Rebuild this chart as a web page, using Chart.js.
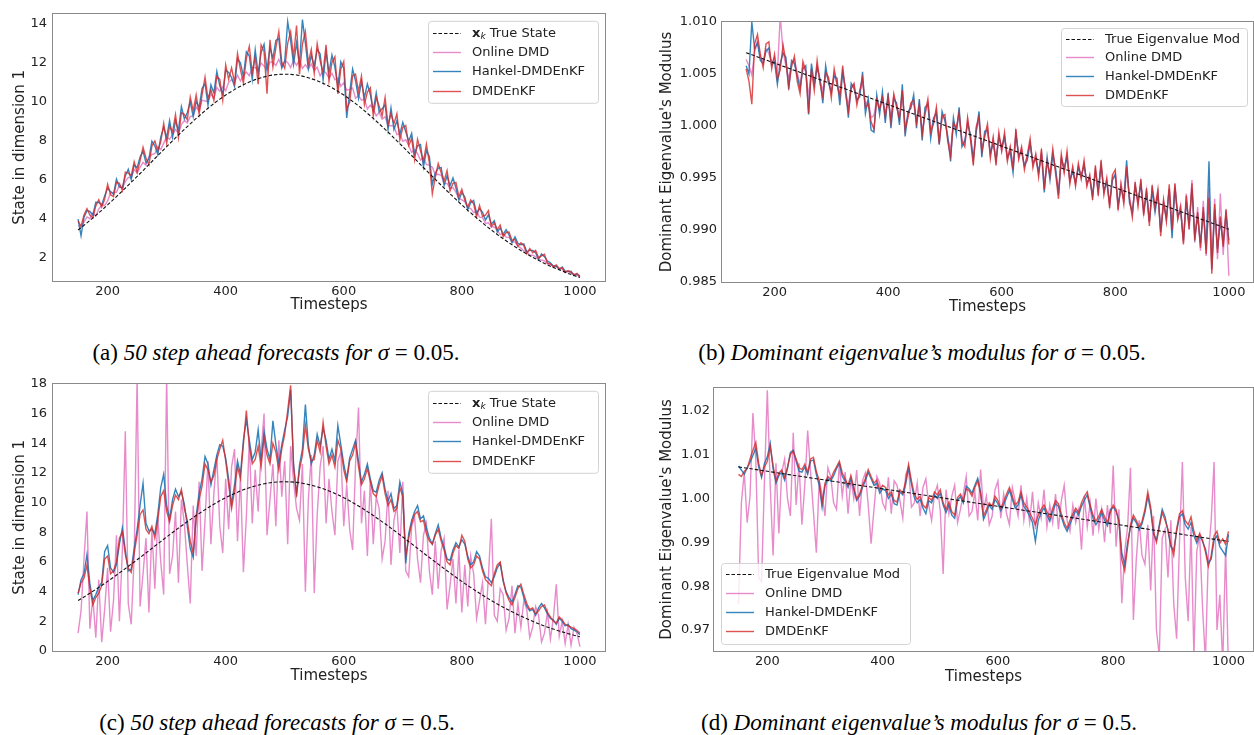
<!DOCTYPE html>
<html><head><meta charset="utf-8">
<script src="https://cdn.jsdelivr.net/npm/chart.js@4.4.1/dist/chart.umd.min.js"></script>
<style>
html,body{margin:0;padding:0;background:#fff}
body{width:1254px;height:735px;position:relative;overflow:hidden}
canvas{position:absolute;display:block}
.cap{position:absolute;font-family:"Liberation Serif","DejaVu Serif",serif;font-size:23px;color:#000;white-space:nowrap;transform:translateX(-50%);line-height:26px}
.cap i{font-style:italic}
</style></head><body>
<canvas id="cA" width="627" height="320" style="left:0;top:0"></canvas>
<canvas id="cB" width="614" height="320" style="left:640px;top:0"></canvas>
<canvas id="cC" width="627" height="320" style="left:0;top:370px"></canvas>
<canvas id="cD" width="614" height="320" style="left:640px;top:370px"></canvas>
<div class="cap" style="left:276px;top:340px">(a) <i>50 step ahead forecasts for σ</i> = 0.05.</div>
<div class="cap" style="left:922px;top:340px">(b) <i>Dominant eigenvalue’s modulus for σ</i> = 0.05.</div>
<div class="cap" style="left:277px;top:710px">(c) <i>50 step ahead forecasts for σ</i> = 0.5.</div>
<div class="cap" style="left:919px;top:710px">(d) <i>Dominant eigenvalue’s modulus for σ</i> = 0.5.</div>
<script>
// ---------------- data ----------------
const timesteps = [150,155,160,165,170,175,180,185,190,195,
200,205,210,215,220,225,230,235,240,245,
250,255,260,265,270,275,280,285,290,295,
300,305,310,315,320,325,330,335,340,345,
350,355,360,365,370,375,380,385,390,395,
400,405,410,415,420,425,430,435,440,445,
450,455,460,465,470,475,480,485,490,495,
500,505,510,515,520,525,530,535,540,545,
550,555,560,565,570,575,580,585,590,595,
600,605,610,615,620,625,630,635,640,645,
650,655,660,665,670,675,680,685,690,695,
700,705,710,715,720,725,730,735,740,745,
750,755,760,765,770,775,780,785,790,795,
800,805,810,815,820,825,830,835,840,845,
850,855,860,865,870,875,880,885,890,895,
900,905,910,915,920,925,930,935,940,945,
950,955,960,965,970,975,980,985,990,995,1000];

const truthSteps = [150,160,170,180,190,200,210,220,230,240,250,260,270,280,290,300,310,320,330,340,
350,360,370,380,390,400,410,420,430,440,450,460,470,480,490,500,510,520,530,540,
550,560,570,580,590,600,610,620,630,640,650,660,670,680,690,700,710,720,730,740,
750,760,770,780,790,800,810,820,830,840,850,860,870,880,890,900,910,920,930,940,
950,960,970,980,990,1000];
const trueState = [3.40,3.64,3.89,4.15,4.41,4.69,4.97,5.26,5.55,5.85,6.15,6.45,6.76,7.07,7.37,7.68,7.98,8.28,8.57,8.85,
9.13,9.39,9.65,9.89,10.12,10.33,10.52,10.70,10.86,11.00,11.12,11.22,11.30,11.36,11.39,11.40,11.39,11.36,11.30,11.22,
11.12,11.00,10.86,10.70,10.52,10.33,10.12,9.89,9.65,9.39,9.13,8.85,8.57,8.28,7.98,7.68,7.37,7.07,6.76,6.45,
6.15,5.85,5.55,5.26,4.97,4.69,4.41,4.15,3.89,3.64,3.40,3.17,2.95,2.74,2.54,2.35,2.17,2.00,1.84,1.68,
1.54,1.41,1.29,1.17,1.06,0.96];

const eigSteps = [150, 575, 1000];
const trueEigB = [1.00705, 0.99856, 0.99007];
const trueEigD = [1.0072, 0.9987, 0.9902];

const onlineA = [3.63,3.55,3.81,4.07,3.98,4.27,4.12,4.47,4.68,4.66,
4.89,5.31,5.33,5.33,5.70,5.54,5.89,6.10,6.09,6.50,
6.33,6.62,6.87,6.72,7.14,7.27,7.33,7.68,7.53,7.86,
8.18,8.06,8.28,8.56,8.36,8.81,9.02,8.90,9.22,9.27,
9.71,9.51,10.07,10.02,10.00,10.37,10.19,10.71,10.52,10.76,
10.55,10.98,11.12,10.98,11.35,11.05,11.34,11.51,11.32,11.74,
11.75,11.57,11.97,11.81,11.62,12.03,12.01,11.85,12.17,11.77,
12.08,12.00,11.74,12.11,11.86,12.11,11.70,11.89,11.67,11.92,
11.59,11.76,11.32,11.58,11.46,11.20,11.45,11.11,11.20,10.78,
10.96,10.58,10.62,10.69,10.16,10.30,10.07,10.12,9.61,9.81,
9.62,9.26,9.43,9.09,9.22,8.76,8.75,8.73,8.30,8.35,
7.95,8.03,7.74,7.39,7.52,7.32,6.99,7.13,6.76,6.73,
6.62,6.25,6.26,6.21,5.76,5.79,5.55,5.58,5.34,5.02,
4.95,4.86,4.52,4.51,4.29,4.36,4.06,4.04,3.73,3.77,
3.56,3.55,3.39,3.16,3.21,3.03,3.02,2.78,2.79,2.57,
2.47,2.32,2.31,2.11,2.10,2.03,1.86,1.86,1.81,1.66,
1.63,1.52,1.53,1.42,1.39,1.27,1.27,1.20,1.12,1.10,0.98];

const hankelA = [3.96,3.10,4.06,4.39,4.35,4.16,4.82,4.81,4.69,5.15,
5.55,5.37,5.23,6.01,5.60,5.58,6.17,6.52,5.99,6.74,
6.60,7.15,7.45,6.85,7.06,7.96,7.72,7.27,8.17,8.67,
8.15,9.02,8.15,9.02,8.51,9.73,9.10,9.42,9.98,9.22,
10.01,9.68,10.66,10.92,9.81,10.85,10.44,11.54,10.80,10.39,
11.60,11.49,11.23,10.76,12.18,11.98,11.29,12.55,12.34,11.14,
12.65,11.42,12.52,12.94,11.62,12.78,12.21,13.13,13.22,11.72,
12.07,14.10,13.12,11.90,13.01,11.93,14.20,12.99,11.67,12.37,
11.82,12.66,12.45,11.10,12.54,11.48,12.38,11.76,10.77,12.03,
11.70,9.15,10.44,11.66,11.05,10.16,11.02,10.19,10.90,10.35,
9.56,10.44,9.46,9.62,9.84,8.55,9.67,8.56,9.01,8.32,
8.93,8.44,7.96,8.36,7.27,7.72,7.79,6.64,7.48,7.17,
5.75,6.32,6.58,6.61,5.69,6.18,5.67,6.07,5.57,4.93,
5.32,5.11,4.44,4.80,4.92,4.26,4.48,4.32,3.91,4.18,
3.70,3.88,3.29,3.51,3.17,3.42,3.14,2.74,3.04,2.71,
2.64,2.69,2.28,2.35,2.35,2.23,1.89,2.17,2.03,1.80,
1.72,1.55,1.55,1.37,1.50,1.28,1.26,1.28,1.06,1.13,1.04];

const enkfA = [3.85,3.59,4.17,4.50,4.17,4.02,4.64,4.95,4.58,4.97,
5.75,5.21,5.11,5.85,5.80,5.42,6.37,6.32,6.19,6.90,
6.35,6.95,7.65,7.10,6.76,7.71,7.97,7.47,7.92,8.87,
7.85,8.72,8.45,9.32,8.15,9.43,9.34,9.06,10.22,9.52,
10.34,9.36,10.34,11.25,10.14,10.59,10.05,11.28,11.13,10.07,
11.88,11.14,11.72,10.97,12.46,11.63,10.94,12.20,12.83,11.49,
12.27,10.89,12.90,12.56,10.40,13.16,11.76,12.76,13.59,12.02,
11.70,12.98,13.57,12.28,13.90,11.40,12.95,13.59,11.97,12.67,
11.44,12.96,12.08,11.48,12.91,11.03,12.00,12.29,10.39,11.66,
12.05,9.60,9.95,11.31,11.40,10.51,11.30,9.84,10.48,10.70,
9.26,10.20,9.76,9.26,10.20,8.79,9.37,8.86,9.37,8.02,
8.66,8.77,7.74,8.09,7.00,8.05,7.46,6.91,7.81,6.83,
5.25,6.10,6.81,6.34,5.92,6.45,5.40,5.80,5.84,5.11,
5.49,4.93,4.58,4.94,4.74,4.08,4.66,4.10,4.16,4.39,
3.57,3.76,3.42,3.66,3.05,3.27,3.29,2.86,2.92,2.56,
2.74,2.59,2.18,2.45,2.23,2.35,1.97,2.07,2.15,1.70,
1.66,1.51,1.61,1.41,1.46,1.22,1.32,1.22,1.11,1.17,1.00];

const onlineB = [1.0064,1.0058,1.0049,1.0071,1.0082,1.0066,1.0062,1.0074,1.0070,1.0060,
1.0066,1.0050,1.0106,1.0072,1.0058,1.0046,1.0060,1.0064,1.0051,1.0040,
1.0058,1.0052,1.0028,1.0053,1.0040,1.0058,1.0044,1.0034,1.0050,1.0045,
1.0032,1.0050,1.0041,1.0031,1.0052,1.0034,1.0020,1.0038,1.0040,1.0024,
1.0032,1.0042,1.0020,1.0025,1.0008,1.0010,1.0026,1.0018,1.0028,1.0012,
1.0026,1.0008,1.0029,1.0019,1.0009,1.0030,1.0000,1.0010,1.0020,1.0022,
1.0004,1.0019,0.9995,1.0012,1.0022,0.9997,1.0004,1.0015,0.9988,1.0008,
1.0008,0.9988,0.9978,1.0002,0.9997,1.0010,0.9987,0.9983,1.0006,0.9988,
0.9970,0.9996,1.0005,0.9977,0.9990,0.9998,0.9972,0.9988,0.9968,0.9991,
0.9976,0.9990,0.9968,0.9979,0.9962,0.9993,0.9969,0.9978,0.9961,0.9972,
0.9984,0.9962,0.9972,0.9954,0.9975,0.9944,0.9966,0.9954,0.9975,0.9956,
0.9938,0.9970,0.9956,0.9972,0.9947,0.9960,0.9944,0.9962,0.9950,0.9964,
0.9943,0.9952,0.9932,0.9958,0.9936,0.9963,0.9936,0.9948,0.9924,0.9950,
0.9954,0.9922,0.9945,0.9928,0.9958,0.9932,0.9916,0.9944,0.9925,0.9946,
0.9916,0.9938,0.9908,0.9940,0.9922,0.9936,0.9900,0.9928,0.9910,0.9940,
0.9898,0.9944,0.9912,0.9924,0.9888,0.9935,0.9900,0.9948,0.9888,0.9922,
0.9880,0.9928,0.9875,0.9940,0.9866,0.9930,0.9872,0.9935,0.9876,0.9918,0.9856];

const hankelB = [1.0058,1.0050,1.0100,1.0074,1.0080,1.0063,1.0060,1.0072,1.0075,1.0059,
1.0062,1.0040,1.0060,1.0070,1.0066,1.0035,1.0063,1.0060,1.0048,1.0036,
1.0055,1.0058,1.0011,1.0060,1.0040,1.0056,1.0045,1.0022,1.0058,1.0041,
1.0033,1.0048,1.0046,1.0020,1.0052,1.0036,1.0008,1.0041,1.0036,1.0025,
1.0028,1.0052,1.0012,1.0026,0.9996,0.9994,1.0030,1.0011,1.0033,1.0003,
1.0032,0.9998,1.0026,1.0022,1.0001,1.0040,0.9990,1.0014,1.0017,1.0030,
0.9998,1.0026,0.9986,1.0018,1.0021,0.9988,1.0008,1.0012,0.9982,1.0014,
1.0005,0.9990,0.9966,1.0008,0.9992,1.0018,0.9980,0.9986,1.0002,0.9992,
0.9967,0.9993,1.0014,0.9970,0.9995,0.9996,0.9974,0.9983,0.9967,0.9989,
0.9980,0.9989,0.9970,0.9975,0.9955,0.9992,0.9972,0.9975,0.9962,0.9967,
0.9983,0.9965,0.9968,0.9956,0.9973,0.9936,0.9970,0.9948,0.9972,0.9959,
0.9934,0.9968,0.9960,0.9970,0.9948,0.9956,0.9946,0.9960,0.9952,0.9962,
0.9946,0.9949,0.9933,0.9957,0.9938,0.9962,0.9938,0.9946,0.9926,0.9948,
0.9953,0.9924,0.9940,0.9930,0.9967,0.9926,0.9917,0.9942,0.9928,0.9944,
0.9918,0.9936,0.9908,0.9938,0.9917,0.9935,0.9898,0.9925,0.9912,0.9939,
0.9892,0.9941,0.9914,0.9918,0.9890,0.9928,0.9905,0.9940,0.9894,0.9913,
0.9887,0.9918,0.9881,0.9966,0.9862,0.9920,0.9882,0.9908,0.9888,0.9915,0.9890];

const enkfB = [1.0055,1.0043,1.0021,1.0079,1.0088,1.0069,1.0056,1.0079,1.0081,1.0055,
1.0069,1.0045,1.0054,1.0078,1.0062,1.0038,1.0057,1.0067,1.0043,1.0031,
1.0062,1.0053,1.0012,1.0055,1.0034,1.0063,1.0041,1.0028,1.0052,1.0047,
1.0027,1.0055,1.0040,1.0028,1.0058,1.0031,1.0014,1.0036,1.0041,1.0020,
1.0034,1.0046,1.0018,1.0021,1.0004,0.9997,1.0025,1.0016,1.0027,1.0009,
1.0028,1.0004,1.0031,1.0018,1.0007,1.0034,0.9996,1.0008,1.0022,1.0025,
1.0003,1.0021,0.9992,1.0012,1.0026,0.9994,1.0002,1.0018,0.9983,1.0009,
1.0011,0.9985,0.9971,1.0003,0.9998,1.0013,0.9985,0.9980,1.0008,0.9987,
0.9962,0.9999,1.0009,0.9975,0.9990,1.0002,0.9969,0.9989,0.9962,0.9994,
0.9976,0.9994,0.9966,0.9980,0.9958,0.9997,0.9968,0.9980,0.9958,0.9972,
0.9988,0.9960,0.9973,0.9951,0.9978,0.9939,0.9966,0.9952,0.9978,0.9954,
0.9930,0.9973,0.9955,0.9976,0.9944,0.9961,0.9942,0.9964,0.9949,0.9967,
0.9942,0.9953,0.9929,0.9962,0.9933,0.9967,0.9934,0.9950,0.9921,0.9953,
0.9958,0.9919,0.9944,0.9925,0.9961,0.9930,0.9912,0.9946,0.9923,0.9949,
0.9914,0.9940,0.9904,0.9943,0.9921,0.9939,0.9894,0.9929,0.9908,0.9944,
0.9900,0.9945,0.9910,0.9922,0.9886,0.9933,0.9901,0.9945,0.9890,0.9917,
0.9883,0.9922,0.9877,0.9931,0.9858,0.9925,0.9878,0.9913,0.9884,0.9920,0.9886];

const onlineC = [1.20,2.70,6.20,9.40,1.50,3.60,0.90,4.80,0.60,2.80,
5.60,1.30,3.40,7.80,2.00,6.80,14.80,3.20,1.80,6.40,
18.50,3.00,5.20,7.60,2.60,8.20,4.20,9.00,6.00,3.80,
18.50,5.20,6.40,9.40,4.60,10.20,8.60,5.80,3.20,9.80,
6.40,11.40,5.40,8.80,12.80,7.20,10.60,13.20,8.40,6.60,
11.60,8.20,12.40,13.60,7.40,11.80,5.30,9.00,14.20,8.60,
12.20,9.40,13.40,16.00,7.80,10.20,12.60,8.40,14.20,10.40,
12.80,7.20,13.80,11.40,9.60,8.80,12.60,4.00,10.20,13.20,
3.90,9.20,12.40,13.80,8.60,11.60,9.40,7.80,12.80,13.40,
8.40,11.20,8.20,6.80,12.60,16.40,8.60,10.80,6.40,11.60,
7.20,10.40,9.60,6.20,7.40,10.80,5.80,8.80,9.80,6.60,
11.40,5.40,5.00,8.40,9.00,6.20,4.60,7.80,8.60,5.40,
3.80,7.40,4.20,6.80,7.60,2.80,4.40,6.20,3.20,6.80,
2.60,5.80,3.00,6.40,5.20,2.20,3.40,4.60,1.80,5.00,
8.90,2.40,2.00,4.20,3.80,1.40,2.20,4.40,1.20,3.20,
1.60,3.40,2.80,0.90,1.60,3.00,2.40,0.60,1.20,2.60,
0.80,2.20,4.50,1.00,2.00,0.50,1.80,0.40,1.60,1.20,0.30];

const hankelC = [3.80,4.80,5.20,6.50,4.50,3.40,3.80,4.30,4.60,6.70,
7.10,5.60,5.30,5.80,7.20,8.30,6.80,5.40,5.50,6.90,
8.20,9.80,11.30,8.60,8.10,8.20,7.90,9.20,11.00,11.90,
9.80,8.90,10.20,10.90,10.40,10.70,9.90,8.40,6.90,6.30,
9.10,10.60,11.60,13.10,12.60,11.20,12.20,13.20,13.90,13.80,
13.00,11.60,9.90,11.20,12.80,11.90,14.20,15.60,14.20,12.90,
13.40,14.90,12.80,14.80,13.60,12.90,15.50,13.90,12.60,13.90,
14.90,15.80,17.60,12.60,10.40,12.50,13.60,16.60,13.90,12.60,
13.20,14.60,13.80,15.00,14.20,12.90,13.60,12.80,15.20,13.90,
12.60,11.60,13.00,13.60,14.20,12.80,11.40,11.90,12.60,11.60,
10.80,10.70,11.50,12.00,10.90,10.10,10.60,9.60,9.80,11.40,
10.60,5.90,7.90,8.80,9.40,9.80,8.90,9.10,8.30,7.60,
7.20,7.90,8.50,7.60,7.00,6.20,6.10,6.80,7.30,7.00,
7.50,7.20,6.40,5.80,6.00,6.70,6.40,5.60,5.00,4.90,
4.60,5.00,5.60,5.90,4.70,4.00,3.60,3.30,3.80,4.40,
4.30,3.60,3.00,2.70,2.80,2.40,2.90,3.20,2.90,2.50,
2.20,2.10,1.80,2.20,2.00,1.70,1.80,1.50,1.40,1.30,1.10];

const enkfC = [3.90,4.60,4.90,5.80,4.20,3.10,3.60,3.90,4.40,6.20,
6.40,5.20,5.40,6.00,7.60,8.00,6.50,5.60,5.30,6.60,
7.80,9.20,9.50,8.20,7.90,8.40,7.60,8.80,10.40,10.80,
9.40,8.70,9.80,10.50,10.20,10.90,9.60,8.80,7.40,6.60,
8.90,10.20,11.10,12.60,12.20,11.40,11.80,12.90,13.60,14.20,
12.80,11.20,9.60,10.80,12.40,11.60,13.90,16.20,13.80,12.60,
12.90,13.80,12.40,14.40,13.20,12.60,14.00,13.40,12.20,13.60,
14.60,16.20,17.90,12.40,10.60,12.20,13.20,15.20,13.60,12.80,
12.90,14.20,13.40,15.40,13.80,12.60,13.20,12.40,14.20,13.60,
12.20,11.40,12.80,13.20,14.00,12.40,11.20,11.60,12.30,11.40,
10.60,10.40,11.20,11.80,10.60,9.80,10.20,9.40,9.60,11.00,
10.40,6.40,7.60,8.60,9.20,9.40,8.70,8.80,7.90,7.40,
7.20,7.80,8.20,7.40,6.80,6.00,5.80,6.60,7.10,6.90,
7.80,7.40,6.20,5.60,5.80,6.40,6.20,5.40,4.80,4.60,
4.40,5.20,5.80,6.00,4.80,3.90,3.40,3.10,3.60,4.20,
4.50,3.80,3.20,2.80,2.90,2.50,2.70,3.00,3.10,2.60,
2.30,2.00,1.90,2.30,2.10,1.80,1.70,1.60,1.50,1.40,1.20];

const onlineD = [0.9760,0.9990,1.0060,0.9945,1.0005,1.0195,1.0090,0.9820,0.9810,1.0040,
1.0247,1.0030,0.9870,1.0080,0.9920,1.0060,1.0090,1.0000,0.9960,1.0150,
0.9985,1.0080,0.9940,1.0030,1.0155,1.0060,0.9970,0.9876,1.0040,1.0010,
0.9960,1.0070,1.0050,0.9990,0.9975,1.0080,1.0005,1.0060,0.9965,1.0045,
1.0000,1.0065,0.9960,1.0040,1.0058,0.9985,0.9897,0.9975,1.0050,1.0035,
0.9990,0.9975,1.0048,0.9965,1.0040,1.0030,0.9995,0.9955,1.0055,1.0070,
0.9980,0.9990,1.0035,0.9960,1.0025,1.0045,0.9985,0.9950,1.0010,1.0030,
0.9972,0.9828,1.0020,0.9965,1.0005,1.0030,0.9945,0.9975,1.0010,1.0050,
0.9960,0.9970,1.0015,0.9950,1.0066,0.9975,1.0005,0.9940,0.9960,1.0020,
1.0040,0.9955,1.0010,0.9965,0.9940,1.0025,0.9995,0.9960,1.0030,0.9950,
1.0000,0.9945,1.0015,0.9930,0.9990,0.9955,1.0020,0.9935,0.9985,0.9945,
1.0010,0.9930,0.9995,1.0030,0.9950,0.9925,0.9985,0.9945,0.9975,0.9883,
1.0005,0.9935,0.9990,0.9915,1.0000,0.9930,0.9975,0.9900,0.9985,0.9920,
1.0075,0.9890,0.9975,0.9761,0.9880,0.9935,1.0070,0.9723,0.9860,0.9950,
0.9870,0.9850,0.9940,0.9790,0.9960,0.9700,0.9640,0.9910,0.9930,0.9820,
0.9950,0.9760,0.9680,0.9900,1.0083,0.9820,0.9720,0.9935,0.9640,0.9880,
0.9915,0.9750,0.9630,0.9870,0.9950,1.0083,0.9700,0.9780,0.9620,0.9890,0.9600];

const hankelD = [1.0074,1.0065,1.0055,1.0070,1.0082,1.0098,1.0115,1.0072,1.0048,1.0080,
1.0095,1.0126,1.0068,1.0035,1.0052,1.0060,1.0042,1.0068,1.0105,1.0110,
1.0085,1.0062,1.0060,1.0072,1.0055,1.0085,1.0088,1.0055,1.0030,0.9980,
1.0028,1.0045,1.0040,1.0052,1.0068,1.0080,1.0050,1.0040,1.0025,1.0045,
1.0020,0.9995,1.0005,1.0025,1.0040,1.0060,1.0045,1.0030,1.0035,1.0012,
1.0022,1.0018,1.0000,1.0010,0.9988,0.9985,1.0015,1.0008,1.0032,1.0070,
1.0032,1.0002,0.9990,0.9998,0.9978,0.9965,0.9995,0.9990,1.0008,1.0000,
1.0012,0.9985,0.9968,0.9985,0.9962,0.9955,0.9995,1.0004,0.9990,1.0028,
1.0022,1.0012,1.0030,1.0046,1.0015,0.9952,0.9968,0.9985,0.9975,0.9998,
0.9988,0.9972,0.9985,1.0002,1.0018,0.9998,0.9978,0.9985,1.0008,0.9982,
0.9972,0.9960,0.9945,0.9902,0.9950,0.9968,0.9978,0.9962,0.9948,0.9970,
0.9988,0.9982,0.9958,0.9938,0.9925,0.9942,0.9958,0.9972,0.9962,0.9982,
0.9996,1.0008,0.9980,0.9955,0.9940,0.9952,0.9968,0.9950,0.9938,0.9975,
0.9980,0.9970,0.9950,0.9875,0.9848,0.9900,0.9935,0.9955,0.9945,0.9928,
0.9942,0.9968,1.0005,0.9972,0.9918,0.9905,0.9940,0.9975,0.9958,0.9925,
0.9890,0.9882,0.9925,0.9958,0.9965,0.9940,0.9930,0.9945,0.9915,0.9898,
0.9915,0.9902,0.9885,0.9852,0.9862,0.9905,0.9915,0.9890,0.9880,0.9870,0.9918];

const enkfD = [1.0055,1.0050,1.0062,1.0068,1.0090,1.0110,1.0128,1.0080,1.0052,1.0072,
1.0085,1.0118,1.0075,1.0040,1.0058,1.0065,1.0048,1.0072,1.0100,1.0108,
1.0090,1.0070,1.0066,1.0078,1.0060,1.0090,1.0094,1.0062,1.0040,0.9990,
1.0035,1.0050,1.0044,1.0060,1.0072,1.0085,1.0058,1.0045,1.0030,1.0052,
1.0025,1.0000,1.0010,1.0030,1.0045,1.0066,1.0050,1.0035,1.0042,1.0020,
1.0030,1.0025,1.0008,1.0015,0.9995,0.9992,1.0020,1.0012,1.0040,1.0078,
1.0040,1.0010,0.9998,1.0005,0.9985,0.9978,1.0002,0.9996,1.0015,1.0008,
1.0020,0.9990,0.9975,0.9992,0.9970,0.9962,1.0002,1.0010,0.9995,1.0022,
1.0018,1.0005,1.0025,1.0040,1.0010,0.9960,0.9975,0.9990,0.9982,1.0005,
0.9995,0.9978,0.9992,1.0010,1.0025,1.0005,0.9985,0.9992,1.0015,0.9990,
0.9980,0.9968,0.9955,0.9940,0.9962,0.9975,0.9985,0.9970,0.9955,0.9978,
0.9995,0.9988,0.9965,0.9945,0.9932,0.9950,0.9965,0.9978,0.9968,0.9990,
1.0005,1.0015,0.9985,0.9962,0.9948,0.9960,0.9975,0.9958,0.9945,0.9968,
0.9985,0.9975,0.9945,0.9860,0.9835,0.9890,0.9940,0.9962,0.9950,0.9935,
0.9948,0.9975,1.0015,0.9980,0.9925,0.9900,0.9935,0.9968,0.9950,0.9930,
0.9895,0.9870,0.9930,0.9965,0.9972,0.9950,0.9940,0.9958,0.9925,0.9905,
0.9920,0.9905,0.9878,0.9845,0.9870,0.9915,0.9925,0.9898,0.9908,0.9895,0.9925];

const xTicks = [200, 400, 600, 800, 1000];
const yTicksA = [2, 4, 6, 8, 10, 12, 14];
const yTicksB = [0.985, 0.990, 0.995, 1.000, 1.005, 1.010];
const yTicksC = [0, 2, 4, 6, 8, 10, 12, 14, 16, 18];
const yTicksD = [0.97, 0.98, 0.99, 1.00, 1.01, 1.02];
const stateNames = ['x_k True State', 'Online DMD', 'Hankel-DMDEnKF', 'DMDEnKF'];
const eigNames = ['True Eigenvalue Mod', 'Online DMD', 'Hankel-DMDEnKF', 'DMDEnKF'];
const xTitle = 'Timesteps';
const stateTitle = 'State in dimension 1';
const eigTitle = "Dominant Eigenvalue's Modulus";

// ---------------- drawing ----------------
Chart.defaults.font.family = '"DejaVu Sans", sans-serif';
const PINK = 'rgba(227,119,194,0.85)', BLUE = 'rgba(31,119,180,0.9)', RED = 'rgba(214,39,40,0.8)', DARK = '#111';
const TXT = '#222';

function pts(xs, ys) { return xs.map((x, i) => ({x: x, y: ys[i]})); }

const framePlugin = {
  id: 'frame',
  afterDraw(chart) {
    const a = chart.chartArea, c = chart.ctx;
    c.save();
    c.strokeStyle = '#8a8a8a'; c.lineWidth = 1;
    const l = Math.round(a.left) - 0.5, t = Math.round(a.top) - 0.5;
    const r = Math.round(a.right) + 0.5, b = Math.round(a.bottom) + 0.5;
    c.strokeRect(l, t, r - l, b - t);
    c.restore();
  }
};

const legendPlugin = {
  id: 'boxLegend',
  afterDatasetsDraw(chart, args, o) {
    const a = chart.chartArea, c = chart.ctx;
    const x0 = o.corner === 'll' ? a.left + o.inset : a.right - o.inset - o.w;
    const y0 = o.corner === 'll' ? a.bottom - o.inset - o.h : a.top + o.inset;
    c.save();
    c.beginPath();
    if (c.roundRect) c.roundRect(x0 + 0.5, y0 + 0.5, o.w, o.h, 3); else c.rect(x0 + 0.5, y0 + 0.5, o.w, o.h);
    c.fillStyle = 'rgba(255,255,255,0.8)'; c.fill();
    c.strokeStyle = '#d3d3d3'; c.lineWidth = 1; c.stroke();
    chart.data.datasets.forEach((ds, k) => {
      const y = Math.round(y0 + o.first + k * o.gap) + 0.5;
      c.beginPath();
      c.setLineDash(ds.borderDash || []);
      c.strokeStyle = ds.borderColor; c.lineWidth = ds.borderWidth;
      c.moveTo(x0 + 5, y); c.lineTo(x0 + 33, y); c.stroke();
      c.setLineDash([]);
      c.fillStyle = TXT; c.textBaseline = 'middle'; c.textAlign = 'left';
      let tx = x0 + 44;
      let label = ds.label;
      if (label.startsWith('x_k')) {
        c.font = 'bold 13px "DejaVu Sans"'; c.fillText('x', tx, y); tx += c.measureText('x').width;
        c.font = 'italic 9px "DejaVu Sans"'; c.fillText('k', tx, y + 3); tx += c.measureText('k').width;
        label = label.slice(3);
      }
      c.font = '13px "DejaVu Sans"'; c.fillText(label, tx, y);
    });
    c.restore();
  }
};

function panel(id, p) {
  const mk = (label, xs, ys, color, order, dash, w) => ({
    label: label, data: pts(xs, ys), borderColor: color, borderWidth: w || 1.4,
    borderDash: dash || [], order: order, clip: 0, pointRadius: 0, tension: 0, fill: false
  });
  new Chart(document.getElementById(id), {
    type: 'line',
    data: { datasets: [
      mk(p.names[0], p.trueX, p.trueY, DARK, 0, [3.5, 2], 1.1),
      mk(p.names[1], timesteps, p.online, PINK, 3),
      mk(p.names[2], timesteps, p.hankel, BLUE, 2),
      mk(p.names[3], timesteps, p.enkf, RED, 1)
    ]},
    options: {
      responsive: false, animation: false, events: [],
      layout: { padding: p.pad },
      plugins: { legend: { display: false }, tooltip: { enabled: false }, boxLegend: p.legend },
      scales: {
        x: {
          type: 'linear', min: 107.5, max: 1042.5,
          afterBuildTicks: s => { s.ticks = xTicks.map(v => ({value: v})); },
          afterFit: s => { s.height = p.xH; },
          grid: { display: false, drawTicks: false }, border: { display: false },
          ticks: { color: TXT, font: { size: 13 }, padding: 3, autoSkip: false, maxRotation: 0, callback: v => String(v) },
          title: { display: true, text: xTitle, color: TXT, font: { size: 15 }, padding: { top: 0, bottom: p.xTitlePad } }
        },
        y: {
          type: 'linear', min: p.yMin, max: p.yMax,
          afterBuildTicks: s => { s.ticks = p.yTicks.map(v => ({value: v})); },
          afterFit: s => { s.width = p.yW; },
          grid: { display: false, drawTicks: false }, border: { display: false },
          ticks: { color: TXT, font: { size: 13 }, padding: p.yTickPad, autoSkip: false, callback: v => Number(v).toFixed(p.dec) },
          title: { display: true, text: p.yTitle, color: TXT, font: { size: 15 }, padding: { top: p.yTitlePad, bottom: 0 } }
        }
      }
    },
    plugins: [legendPlugin, framePlugin]
  });
}

panel('cA', { names: stateNames, trueX: truthSteps, trueY: trueState, online: onlineA, hankel: hankelA, enkf: enkfA,
  pad: { top: 11, right: 22, left: 0, bottom: 0 }, xH: 39, xTitlePad: 6, yW: 53, yTickPad: 6, yTitlePad: 11,
  yMin: 0.78, yMax: 14.5, yTicks: yTicksA, dec: 0, yTitle: stateTitle,
  legend: { corner: 'ur', inset: 7, w: 170, h: 82, first: 12, gap: 19.3 } });

panel('cB', { names: eigNames, trueX: eigSteps, trueY: trueEigB, online: onlineB, hankel: hankelB, enkf: enkfB,
  pad: { top: 22, right: 1, left: 0, bottom: 0 }, xH: 38, xTitlePad: 4, yW: 82, yTickPad: 5, yTitlePad: 18,
  yMin: 0.985, yMax: 1.010, yTicks: yTicksB, dec: 3, yTitle: eigTitle,
  legend: { corner: 'ur', inset: 6, w: 186, h: 78, first: 10.5, gap: 18.8 } });

panel('cC', { names: stateNames, trueX: truthSteps, trueY: trueState, online: onlineC, hankel: hankelC, enkf: enkfC,
  pad: { top: 11, right: 22, left: 0, bottom: 0 }, xH: 39, xTitlePad: 5, yW: 53, yTickPad: 6, yTitlePad: 11,
  yMin: 0, yMax: 18, yTicks: yTicksC, dec: 0, yTitle: stateTitle,
  legend: { corner: 'ur', inset: 7, w: 170, h: 82, first: 12, gap: 19.3 } });

panel('cD', { names: eigNames, trueX: eigSteps, trueY: trueEigD, online: onlineD, hankel: hankelD, enkf: enkfD,
  pad: { top: 18, right: 1, left: 0, bottom: 0 }, xH: 39, xTitlePad: 4, yW: 74, yTickPad: 4, yTitlePad: 18,
  yMin: 0.9652, yMax: 1.0252, yTicks: yTicksD, dec: 2, yTitle: eigTitle,
  legend: { corner: 'll', inset: 7, w: 189, h: 81, first: 11, gap: 19 } });
</script>
</body></html>
